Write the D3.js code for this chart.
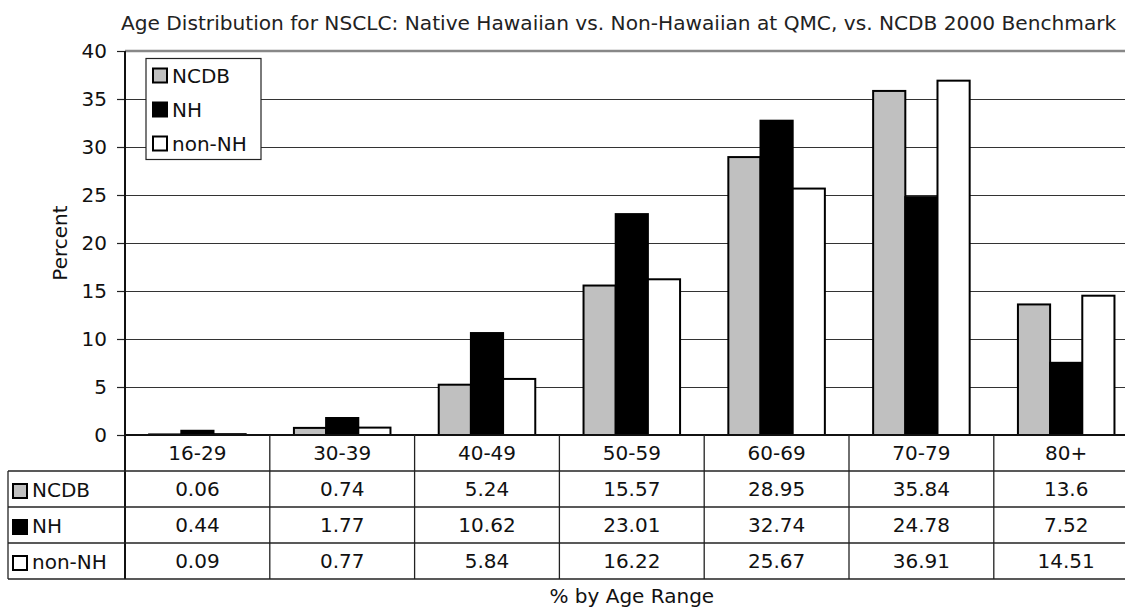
<!DOCTYPE html>
<html><head><meta charset="utf-8">
<script src="https://cdn.jsdelivr.net/npm/d3@7/dist/d3.min.js"></script>
<style>
html,body{margin:0;padding:0;background:#fff;}
svg{display:block;font-family:"DejaVu Sans",Verdana,sans-serif;}
</style></head>
<body>
<svg id="chart" width="1125" height="608"></svg>
<script>
const categories = ["16-29","30-39","40-49","50-59","60-69","70-79","80+"];
const seriesNames = ["NCDB","NH","non-NH"];
const ncdb = [0.06,0.74,5.24,15.57,28.95,35.84,13.6];
const nh = [0.44,1.77,10.62,23.01,32.74,24.78,7.52];
const nonNH = [0.09,0.77,5.84,16.22,25.67,36.91,14.51];
const seriesColors = ["#c0c0c0","#000000","#ffffff"];
const yTicks = [0,5,10,15,20,25,30,35,40];
const titleText = "Age Distribution for NSCLC: Native Hawaiian vs. Non-Hawaiian at QMC, vs. NCDB 2000 Benchmark";
const yLabel = "Percent";
const xLabel = "% by Age Range";

(function(){
const seriesData = [ncdb, nh, nonNH];
const svg = d3.select("#chart");
const fs = 20;
const left = 125, colW = 144.8, right = left + colW*categories.length;
const plotTop = 51, bottom = 435;
const rowH = 36;

const x0 = d3.scaleBand().domain(categories).range([left, right]).paddingInner(0).paddingOuter(0);
const x1 = d3.scaleBand().domain(seriesNames).range([0, x0.bandwidth()]).paddingInner(0).paddingOuter(0.75);
const y = d3.scaleLinear().domain([0,40]).range([bottom, plotTop]);

svg.append("g").selectAll("line").data(yTicks.filter(t=>t>0 && t<40)).join("line")
  .attr("x1", left).attr("x2", right).attr("y1", d=>y(d)).attr("y2", d=>y(d))
  .attr("stroke", "#333").attr("stroke-width", 1).attr("shape-rendering","crispEdges");
svg.append("line").attr("x1", left).attr("x2", right).attr("y1", y(40)).attr("y2", y(40))
  .attr("stroke", "#888").attr("stroke-width", 2.5);

const yAxis = d3.axisLeft(y).tickValues(yTicks).tickSize(8).tickPadding(10);
const gy = svg.append("g").attr("transform", `translate(${left},0)`).call(yAxis);
gy.select(".domain").remove();
gy.selectAll(".tick line").attr("stroke", "#222").attr("stroke-width", 1.2);
gy.selectAll(".tick text").attr("font-size", fs).attr("font-family", "DejaVu Sans, sans-serif").attr("fill", "#111");

const groups = svg.append("g").selectAll("g").data(categories).join("g")
  .attr("transform", c => `translate(${x0(c)},0)`);
groups.selectAll("rect").data((c,i) => seriesNames.map((s,j) => ({s, j, v: seriesData[j][i]}))).join("rect")
  .attr("x", d => x1(d.s)).attr("width", x1.bandwidth())
  .attr("y", d => y(d.v)).attr("height", d => y(0) - y(d.v))
  .attr("fill", d => seriesColors[d.j]).attr("stroke", "#000").attr("stroke-width", 2);

const tableBottom = bottom + rowH*4;
svg.append("line").attr("x1", left).attr("x2", left).attr("y1", plotTop).attr("y2", tableBottom)
  .attr("stroke", "#111").attr("stroke-width", 2);
svg.append("line").attr("x1", left).attr("x2", right).attr("y1", bottom).attr("y2", bottom)
  .attr("stroke", "#111").attr("stroke-width", 2);

const tableLeft = 8;
const tg = svg.append("g");
[1,2,3,4].forEach(r => {
  tg.append("line").attr("x1", tableLeft).attr("x2", right).attr("y1", bottom + r*rowH).attr("y2", bottom + r*rowH)
    .attr("stroke", "#222").attr("stroke-width", 1.3);
});
tg.append("line").attr("x1", tableLeft).attr("x2", tableLeft).attr("y1", bottom + rowH).attr("y2", tableBottom)
  .attr("stroke", "#222").attr("stroke-width", 1.3);
tg.selectAll("line.col").data(categories.slice(1).concat(["end"])).join("line").attr("class","col")
  .attr("x1", (c,i) => i < categories.length-1 ? x0(c) : right)
  .attr("x2", (c,i) => i < categories.length-1 ? x0(c) : right)
  .attr("y1", bottom).attr("y2", tableBottom)
  .attr("stroke", "#222").attr("stroke-width", 1.3);

tg.selectAll("text.cat").data(categories).join("text").attr("class","cat")
  .attr("x", c => x0(c) + x0.bandwidth()/2).attr("y", bottom + rowH/2 + 7)
  .attr("text-anchor","middle").attr("font-size", fs).attr("fill","#111").text(c => c);

seriesNames.forEach((s, j) => {
  const ry = bottom + (j+1)*rowH;
  tg.append("rect").attr("x", 13).attr("y", ry + 13).attr("width", 14).attr("height", 14)
    .attr("fill", seriesColors[j]).attr("stroke", "#000").attr("stroke-width", 2);
  tg.append("text").attr("x", 32).attr("y", ry + rowH/2 + 8).attr("font-size", fs).attr("fill","#111").text(s);
  tg.selectAll(null).data(seriesData[j]).join("text")
    .attr("x", (v,i) => x0(categories[i]) + x0.bandwidth()/2).attr("y", ry + rowH/2 + 7)
    .attr("text-anchor","middle").attr("font-size", fs).attr("fill","#111").text(v => String(v));
});

const lg = svg.append("g");
lg.append("rect").attr("x", 146).attr("y", 58.5).attr("width", 115).attr("height", 101)
  .attr("fill", "#fff").attr("stroke", "#222").attr("stroke-width", 1.2);
seriesNames.forEach((s, j) => {
  const cy = 75.5 + j*34;
  lg.append("rect").attr("x", 153).attr("y", cy - 7).attr("width", 14).attr("height", 14)
    .attr("fill", seriesColors[j]).attr("stroke", "#000").attr("stroke-width", 2);
  lg.append("text").attr("x", 172).attr("y", cy + 7.5).attr("font-size", fs).attr("fill","#111").text(s);
});

const t = svg.append("text").attr("x", 121).attr("y", 30).attr("font-size", fs).attr("fill","#222").text(titleText);
const w = t.node().getComputedTextLength();
t.attr("font-size", fs * 996 / w);

svg.append("text").attr("transform", `translate(67,${(plotTop+bottom)/2}) rotate(-90)`)
  .attr("text-anchor","middle").attr("font-size", fs).attr("fill","#111").text(yLabel);
svg.append("text").attr("x", (left+right)/2).attr("y", 603)
  .attr("text-anchor","middle").attr("font-size", fs).attr("fill","#111").text(xLabel);
})();
</script>
</body></html>
